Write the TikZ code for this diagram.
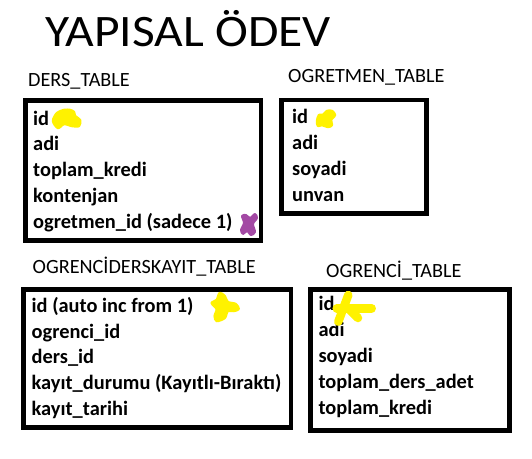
\documentclass[tikz,border=0pt]{standalone}
\usepackage{fontspec}
\setmainfont{Carlito}
\definecolor{blobyellow}{RGB}{255,242,0}
\definecolor{blobpurple}{RGB}{163,73,164}
\begin{document}
\begin{tikzpicture}[x=1pt,y=-1pt,
  tbox/.style={draw=black,line width=4.8pt},
  title/.style={anchor=base west,inner sep=0pt,font=\fontsize{45}{50}\selectfont},
  tlabel/.style={anchor=base west,inner sep=0pt,font=\fontsize{20.2}{24}\selectfont},
  field/.style={anchor=base west,inner sep=0pt,font=\fontsize{20.4}{24}\selectfont\bfseries},
  yblob/.style={fill=blobyellow,draw=blobyellow,line width=2.5pt,line join=round},
  pblob/.style={fill=blobpurple,draw=blobpurple,line width=2pt,line join=round},
  ystroke/.style={draw=blobyellow,line width=8.5pt,line cap=round}]
\useasboundingbox (0,0) rectangle (532,458);
\fill[white] (0,0) rectangle (532,458);

\node[title] (title) at (45,46) {\scalebox{1.1}[1]{YAPISAL ÖDEV}};

% DERS_TABLE
\node[tlabel] (l1) at (28,86) {DERS\_TABLE};
\draw[tbox] (25.5,100.8) rectangle (261,240.8);
\node[field] (d1) at (33,125) {id};
\node[field] (d2) at (33,150.8) {adi};
\node[field] (d3) at (33,176.6) {toplam\_kredi};
\node[field] (d4) at (33,202.4) {kontenjan};
\node[field] (d5) at (33,228.2) {ogretmen\_id (sadece 1)};
\filldraw[yblob] plot[smooth cycle] coordinates {(53,121) (57,113) (64,110) (70,110) (74,112) (75,116) (80,120) (79,126) (72,126) (64,124) (58,128)};
\filldraw[pblob] plot[smooth cycle] coordinates {(242,216) (246,215) (250,218) (255,214) (257,218) (253,224) (255,232) (251,235) (247,231) (243,234) (241,230) (244,223)};

% OGRETMEN_TABLE
\node[tlabel] (l2) at (288,82) {OGRETMEN\_TABLE};
\draw[tbox] (281.6,100) rectangle (426.5,213.3);
\node[field] (t1) at (292,123) {id};
\node[field] (t2) at (292,149) {adi};
\node[field] (t3) at (292,175) {soyadi};
\node[field] (t4) at (292,201) {unvan};
\filldraw[yblob] plot[smooth cycle] coordinates {(317,121) (319,115) (323,115) (327,111) (332,111) (335,115) (331,120) (332,125) (328,127) (322,125) (318,126)};

% OGRENCIDERSKAYIT_TABLE
\node[tlabel] (l3) at (32.5,273) {OGRENCİDERSKAYIT\_TABLE};
\draw[tbox] (23.5,289.3) rectangle (291,427.5);
\node[field] (k1) at (31.5,312) {id (auto inc from 1)};
\node[field] (k2) at (31.5,338) {ogrenci\_id};
\node[field] (k3) at (31.5,363.5) {ders\_id};
\node[field] (k4) at (31.5,389.3) {kayıt\_durumu (Kayıtlı-Bıraktı)};
\node[field] (k5) at (31.5,415) {kayıt\_tarihi};
\filldraw[yblob] plot[smooth cycle] coordinates {(211.7,303) (216.7,300) (219.7,293) (224.7,296) (227.7,302) (235.7,304) (238.7,309) (233.7,311) (227.7,311) (224.7,318) (216.7,321) (214.7,316) (216.7,309)};

% OGRENCI_TABLE
\node[tlabel] (l4) at (326,277.7) {OGRENCİ\_TABLE};
\draw[tbox] (310.8,289.8) rectangle (509.8,430.8);
\node[field] (s1) at (318.3,310) {id};
\node[field] (s2) at (318.3,336) {adi};
\node[field] (s3) at (318.3,362.3) {soyadi};
\node[field] (s4) at (318.3,388.3) {toplam\_ders\_adet};
\node[field] (s5) at (318.3,414.3) {toplam\_kredi};
\draw[ystroke] (338.3,321.7) -- (348.3,295);
\draw[ystroke] (336.7,308.3) -- (371.7,308.3);
\draw[ystroke] (350,310) -- (358,318);
\end{tikzpicture}
\end{document}
